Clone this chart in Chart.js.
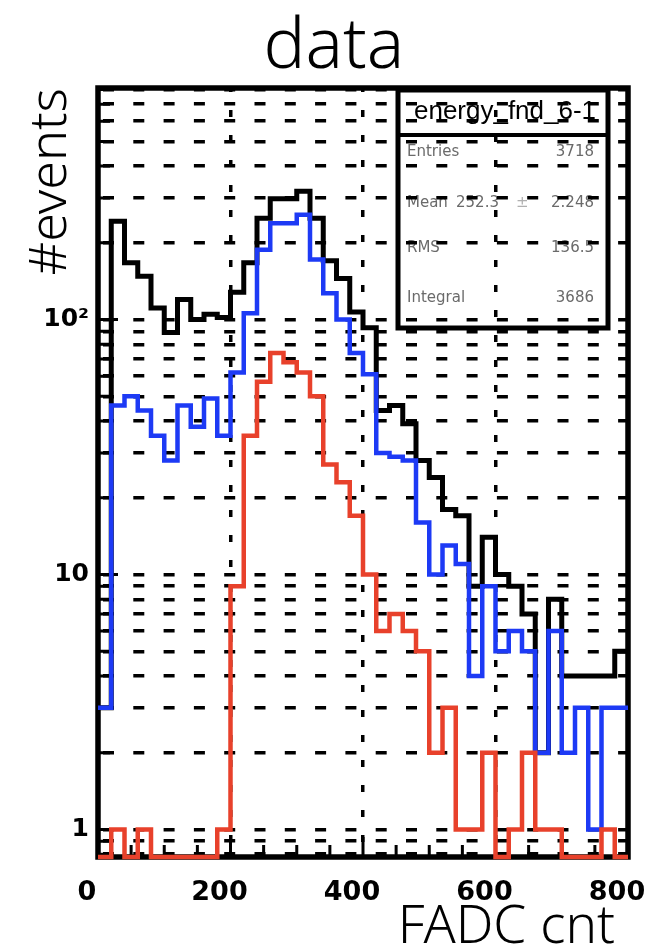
<!DOCTYPE html>
<html>
<head>
<meta charset="utf-8">
<script src="https://cdn.jsdelivr.net/npm/chart.js@4.4.0/dist/chart.umd.min.js"></script>
<style>
  html, body { margin: 0; padding: 0; background: #fff; }
  #graficoFadc { display: block; }
</style>
</head>
<body>
<canvas id="graficoFadc" width="648" height="951"></canvas>
<script>
// bordas dos bins (20 contagens FADC cada)
const bordasBins = [0, 20, 40, 60, 80, 100, 120, 140, 160, 180, 200, 220, 240, 260, 280, 300, 320, 340, 360, 380,
    400, 420, 440, 460, 480, 500, 520, 540, 560, 580, 600, 620, 640, 660, 680, 700, 720, 740, 760, 780, 800];

// eventos por bin
const eventosTotal = [3, 243, 167, 148, 111, 89, 120, 100, 105, 102, 128, 167, 250, 298, 298, 319, 250, 170, 145, 107,
    93, 44, 46, 39, 28, 24, 18, 17, 9, 14, 10, 9, 7, 2, 8, 4, 4, 4, 4, 5];
const eventosAzul = [3, 46, 50, 44, 35, 28, 46, 38, 49, 35, 62, 106, 188, 239, 239, 258, 172, 127, 100, 74,
    61, 30, 29, 28, 16, 10, 13, 11, 4, 9, 5, 6, 5, 2, 6, 2, 3, 1, 3, 3];
const eventosVermelho = [0, 1, 0, 1, 0, 0, 0, 0, 0, 1, 9, 35, 57, 74, 68, 62, 50, 27, 23, 17,
    10, 6, 7, 6, 5, 2, 3, 1, 1, 2, 0, 1, 2, 1, 1, 0, 0, 0, 1, 0];

// eixos
const Y_MIN = 0.78;
const Y_MAX = 810;
const ticksY = [0.8, 0.9, 1, 2, 3, 4, 5, 6, 7, 8, 9, 10, 20, 30, 40, 50, 60, 70, 80, 90, 100, 200, 300, 400, 500, 600, 700, 800];
const rotulosY = { 1: '1', 10: '10', 100: '10\u00B2' };
const rotulosX = [0, 200, 400, 600, 800];

// caixa de estatisticas
const statsTitulo = 'energy_fnd_6-1';
const statsNomes = ['Entries', 'Mean', 'RMS', 'Integral'];
const statsValores = ['3718', '2.248', '136.5', '3686'];
const statsMedia = '252.3';

function montarPontos(eventos) {
    let pontos = [];
    for (let i = 0; i < eventos.length; i++) {
        // bins vazios ficam no piso do eixo log
        pontos.push({ x: bordasBins[i], y: Math.max(eventos[i], Y_MIN) });
    }
    pontos.push({ x: bordasBins[bordasBins.length - 1], y: Math.max(eventos[eventos.length - 1], Y_MIN) });
    return pontos;
}

function datasetHist(eventos, cor, largura) {
    return {
        data: montarPontos(eventos),
        borderColor: cor,
        borderWidth: largura,
        stepped: true,
        pointRadius: 0,
        fill: false,
        clip: 10,
        borderJoinStyle: 'miter',
        borderCapStyle: 'butt'
    };
}

const fonteTitulo = '"Noto Sans", sans-serif';

// moldura, ticks internos, titulos e caixa de stats
const pluginMoldura = {
    id: 'moldura',
    beforeDraw(chart) {
        const ctx = chart.ctx;
        ctx.save();

        // titulos
        ctx.fillStyle = '#000';
        ctx.font = '300 70px ' + fonteTitulo;
        ctx.textAlign = 'center';
        ctx.textBaseline = 'alphabetic';
        ctx.fillText('data', 334, 68);

        ctx.font = '300 53px ' + fonteTitulo;
        ctx.textAlign = 'right';
        ctx.fillText('FADC cnt', 615, 943);

        ctx.save();
        ctx.translate(66, 88);
        ctx.rotate(-Math.PI / 2);
        ctx.font = '300 52px ' + fonteTitulo;
        ctx.textAlign = 'right';
        ctx.fillText('#events', 0, 0);
        ctx.restore();

        // caixa de estatisticas
        const bx = 398, by = 90, bw = 210, bh = 238;
        ctx.lineWidth = 5;
        ctx.strokeStyle = '#000';
        ctx.strokeRect(bx, by, bw, bh);
        ctx.lineWidth = 4;
        ctx.beginPath();
        ctx.moveTo(bx, 135);
        ctx.lineTo(bx + bw, 135);
        ctx.stroke();

        ctx.font = '26px "Liberation Sans", sans-serif';
        ctx.textAlign = 'center';
        ctx.textBaseline = 'middle';
        ctx.fillText(statsTitulo, bx + bw / 2 + 2, 112, 182);

        ctx.font = '15px "DejaVu Sans", sans-serif';
        ctx.fillStyle = '#6a6a6a';
        const linhas = [152, 203, 248, 298];
        for (let i = 0; i < statsNomes.length; i++) {
            ctx.textAlign = 'left';
            ctx.fillText(statsNomes[i], 407, linhas[i]);
            ctx.textAlign = 'right';
            ctx.fillText(statsValores[i], 594, linhas[i]);
        }
        ctx.textAlign = 'left';
        ctx.fillText(statsMedia, 456, linhas[1]);
        ctx.fillStyle = '#b0b0b0';
        ctx.fillText('\u00B1', 516, linhas[1]);
        ctx.restore();
    },
    beforeDatasetsDraw(chart) {
        const ctx = chart.ctx;
        const area = chart.chartArea;
        const escX = chart.scales.x;
        const escY = chart.scales.y;
        ctx.save();
        ctx.strokeStyle = '#000';
        ctx.lineWidth = 3;
        ctx.beginPath();
        escY.ticks.forEach(function (t) {
            const py = escY.getPixelForValue(t.value);
            const comp = rotulosY[t.value] ? 20 : 12;
            ctx.moveTo(area.left, py);
            ctx.lineTo(area.left + comp, py);
        });
        escX.ticks.forEach(function (t) {
            const px = escX.getPixelForValue(t.value);
            const comp = t.value % 200 === 0 ? 20 : 12;
            ctx.moveTo(px, area.bottom);
            ctx.lineTo(px, area.bottom - comp);
        });
        ctx.stroke();

        ctx.lineWidth = 5.5;
        ctx.strokeRect(area.left, area.top, area.right - area.left, area.bottom - area.top);
        ctx.restore();
    }
};

const fonteEixo = { family: '"DejaVu Sans", sans-serif', weight: 'bold', size: 27 };

const configFadc = {
    type: 'line',
    data: {
        datasets: [
            datasetHist(eventosVermelho, '#e8412b', 4.5),
            datasetHist(eventosAzul, '#1d3af5', 4.5),
            datasetHist(eventosTotal, '#000000', 5)
        ]
    },
    options: {
        responsive: false,
        animation: false,
        devicePixelRatio: 1,
        layout: { autoPadding: false, padding: { left: 0, right: 20, top: 88, bottom: 0 } },
        plugins: { legend: { display: false }, tooltip: { enabled: false }, title: { display: false } },
        scales: {
            x: {
                type: 'linear',
                min: 0,
                max: 800,
                afterFit: function (escala) {
                    escala.height = 94;
                    escala.paddingLeft = 0;
                    escala.paddingRight = 0;
                },
                ticks: {
                    stepSize: 50,
                    autoSkip: false,
                    maxRotation: 0,
                    padding: 20,
                    labelOffset: -11,
                    color: '#000',
                    font: fonteEixo,
                    callback: function (v) { return rotulosX.includes(v) ? String(v) : ''; }
                },
                grid: {
                    drawTicks: false,
                    lineWidth: 3.5,
                    color: function (c) {
                        return c.tick && c.tick.value % 200 === 0 ? '#000' : 'rgba(0,0,0,0)';
                    }
                },
                border: { display: false, dash: [7, 18], dashOffset: 3 }
            },
            y: {
                type: 'logarithmic',
                min: Y_MIN,
                max: Y_MAX,
                afterBuildTicks: function (escala) {
                    escala.ticks = ticksY.map(function (v) { return { value: v }; });
                },
                afterFit: function (escala) {
                    escala.width = 98;
                    escala.paddingTop = 0;
                    escala.paddingBottom = 0;
                },
                ticks: {
                    autoSkip: false,
                    padding: 9,
                    color: '#000',
                    font: { family: '"DejaVu Sans", sans-serif', weight: 'bold', size: 25 },
                    callback: function (v) { return rotulosY[v] || ''; }
                },
                grid: { drawTicks: false, lineWidth: 3.5, color: '#000' },
                border: { display: false, dash: [11, 19.3], dashOffset: 25.3 }
            }
        }
    },
    plugins: [pluginMoldura]
};

let graficoFadc = new Chart(document.getElementById('graficoFadc'), configFadc);
console.log('area do grafico:', JSON.stringify(graficoFadc.chartArea));
</script>
</body>
</html>
